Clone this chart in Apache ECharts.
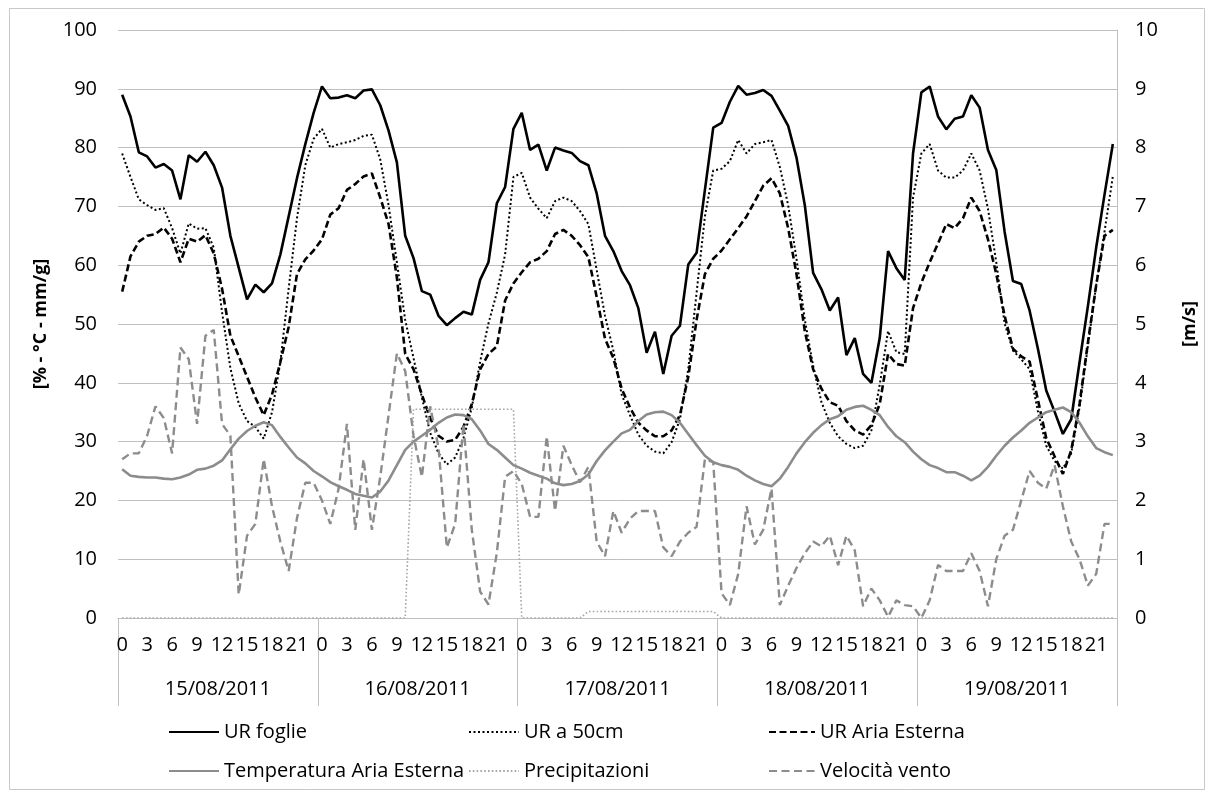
<!DOCTYPE html>
<html>
<head>
<meta charset="utf-8">
<script src="https://cdn.jsdelivr.net/npm/echarts@6/dist/echarts.min.js"></script>
<style>
  html, body { margin: 0; padding: 0; background: #fff; }
  #chart { width: 1214px; height: 791px; }
</style>
</head>
<body>
<div id="chart"></div>
<script>
// Hourly readings, 15-19 August 2011
const hours = ['0','1','2','3','4','5','6','7','8','9','10','11','12','13','14','15','16','17','18','19','20','21','22','23'];
const days = ['15/08/2011', '16/08/2011', '17/08/2011', '18/08/2011', '19/08/2011'];

// Relative humidity on leaves [%]
const urFoglie = [
  89.0, 85.3, 79.2, 78.5, 76.6, 77.2, 76.1, 71.2, 78.7, 77.6, 79.3, 77.0, 73.2, 65.0, 59.6, 54.2, 56.7, 55.4, 56.9, 61.8, 68.3, 74.8, 80.6, 85.9,
  90.4, 88.4, 88.5, 88.9, 88.4, 89.7, 89.9, 87.2, 82.9, 77.5, 65.0, 61.2, 55.6, 55.0, 51.4, 49.8, 51.0, 52.1, 51.6, 57.5, 60.5, 70.5, 73.3, 83.2,
  85.9, 79.6, 80.5, 76.1, 80.0, 79.5, 79.1, 77.7, 77.0, 72.2, 65.0, 62.4, 59.0, 56.6, 52.7, 45.1, 48.7, 41.5, 48.0, 49.7, 60.1, 62.1, 72.8, 83.4,
  84.2, 87.8, 90.5, 89.0, 89.3, 89.8, 88.8, 86.3, 83.7, 78.3, 70.2, 58.7, 55.9, 52.3, 54.5, 44.7, 47.6, 41.5, 40.0, 47.6, 62.4, 59.5, 57.5, 79.0,
  89.4, 90.4, 85.3, 83.1, 84.9, 85.3, 88.9, 86.8, 79.6, 76.2, 65.7, 57.3, 56.8, 52.3, 45.8, 38.7, 35.1, 31.3, 33.8, 43.5, 53.0, 63.0, 72.0, 80.6
];

// Relative humidity at 50 cm [%]
const ur50cm = [
  79.0, 75.0, 71.2, 70.2, 69.4, 69.7, 66.3, 62.0, 67.1, 66.2, 66.3, 63.0, 52.0, 42.5, 36.5, 33.5, 32.5, 30.5, 35.0, 43.5, 56.0, 68.0, 77.0, 81.5,
  83.2, 80.0, 80.6, 80.9, 81.3, 82.0, 82.2, 78.0, 70.2, 60.5, 50.7, 44.2, 37.5, 31.5, 28.0, 26.1, 27.3, 30.6, 35.8, 43.6, 50.1, 55.3, 61.8, 75.0,
  75.7, 71.5, 69.6, 68.0, 70.9, 71.5, 70.9, 69.2, 67.0, 59.2, 51.4, 45.5, 38.0, 34.5, 31.2, 29.3, 28.3, 28.0, 29.9, 33.8, 42.3, 55.3, 68.3, 76.1,
  76.4, 77.7, 81.3, 79.0, 80.6, 80.9, 81.3, 76.7, 70.2, 61.1, 50.7, 42.9, 36.7, 33.2, 30.9, 29.6, 28.9, 29.3, 31.9, 39.7, 48.8, 45.2, 44.9, 71.5,
  79.0, 80.6, 76.1, 74.9, 74.9, 76.1, 79.0, 76.1, 69.6, 60.5, 50.1, 45.5, 44.0, 42.3, 35.1, 29.3, 26.7, 25.4, 28.0, 35.8, 46.2, 56.6, 65.7, 75.1
];

// Outside air relative humidity [%]
const urAriaEsterna = [
  55.5, 61.5, 64.0, 65.0, 65.3, 66.4, 64.5, 60.5, 64.5, 64.0, 65.1, 62.0, 56.0, 48.0, 44.5, 41.0, 37.5, 34.5, 38.0, 43.5, 49.5, 58.5, 61.0, 62.5,
  64.4, 68.6, 69.7, 72.8, 73.8, 75.1, 75.6, 71.5, 67.0, 57.9, 44.9, 42.3, 38.0, 34.0, 31.0, 30.0, 30.3, 32.5, 36.4, 42.3, 44.9, 46.2, 54.0, 56.9,
  58.8, 60.5, 61.1, 62.4, 65.3, 66.0, 65.0, 63.4, 61.4, 54.6, 47.5, 44.2, 39.0, 35.8, 33.2, 31.9, 30.9, 30.9, 31.9, 34.5, 41.0, 50.7, 58.5, 61.1,
  62.5, 64.4, 66.3, 68.3, 70.9, 73.5, 74.8, 72.2, 66.3, 58.5, 48.8, 42.3, 39.0, 36.7, 36.1, 33.5, 31.9, 31.2, 32.8, 36.4, 44.9, 43.2, 42.9, 52.7,
  57.0, 60.5, 63.7, 67.0, 66.3, 68.0, 71.5, 69.2, 64.4, 58.5, 51.4, 45.8, 44.5, 43.6, 37.1, 30.6, 27.5, 24.5, 28.5, 36.4, 46.8, 56.6, 65.0, 66.0
];

// Outside air temperature [°C]
const temperatura = [
  25.3, 24.2, 24.0, 23.9, 23.9, 23.7, 23.6, 23.9, 24.4, 25.2, 25.4, 25.9, 26.8, 28.7, 30.5, 31.8, 32.7, 33.3, 32.8, 30.8, 29.0, 27.3, 26.3, 25.0,
  24.1, 23.1, 22.4, 21.8, 21.1, 20.8, 20.5, 21.5, 23.4, 26.0, 28.6, 30.0, 31.0, 32.0, 33.2, 34.1, 34.6, 34.5, 33.8, 31.9, 29.6, 28.6, 27.3, 26.0,
  25.4, 24.7, 24.2, 23.7, 22.9, 22.6, 22.8, 23.3, 24.4, 26.7, 28.5, 30.0, 31.4, 32.0, 33.5, 34.6, 35.0, 35.1, 34.5, 33.2, 31.3, 29.4, 27.6, 26.5,
  26.0, 25.7, 25.2, 24.2, 23.4, 22.8, 22.4, 23.7, 25.7, 28.0, 29.9, 31.5, 32.8, 33.8, 34.3, 35.4, 35.9, 36.1, 35.4, 34.5, 32.5, 30.9, 29.9, 28.3,
  27.0, 26.0, 25.5, 24.8, 24.8, 24.2, 23.4, 24.2, 25.7, 27.6, 29.3, 30.7, 31.9, 33.2, 34.1, 35.0, 35.4, 35.8, 35.0, 33.2, 30.9, 28.9, 28.2, 27.7
];

// Rainfall [mm/g]
const precipitazioni = [
  0, 0, 0, 0, 0, 0, 0, 0, 0, 0, 0, 0, 0, 0, 0, 0, 0, 0, 0, 0, 0, 0, 0, 0,
  0, 0, 0, 0, 0, 0, 0, 0, 0, 0, 0, 35.5, 35.5, 35.5, 35.5, 35.5, 35.5, 35.5, 35.5, 35.5, 35.5, 35.5, 35.5, 35.5,
  0, 0, 0, 0, 0, 0, 0, 0, 1.1, 1.1, 1.1, 1.1, 1.1, 1.1, 1.1, 1.1, 1.1, 1.1, 1.1, 1.1, 1.1, 1.1, 1.1, 1.1,
  0, 0, 0, 0, 0, 0, 0, 0, 0, 0, 0, 0, 0, 0, 0, 0, 0, 0, 0, 0, 0, 0, 0, 0,
  0, 0, 0, 0, 0, 0, 0, 0, 0, 0, 0, 0, 0, 0, 0, 0, 0, 0, 0, 0, 0, 0, 0, 0
];

// Wind speed [m/s]
const velocitaVento = [
  2.7, 2.8, 2.8, 3.1, 3.6, 3.4, 2.8, 4.6, 4.4, 3.3, 4.8, 4.9, 3.3, 3.1, 0.4, 1.4, 1.6, 2.7, 1.9, 1.3, 0.8, 1.7, 2.3, 2.3,
  2.0, 1.6, 2.2, 3.3, 1.5, 2.7, 1.5, 2.4, 3.45, 4.5, 4.2, 3.1, 2.4, 3.6, 2.9, 1.2, 1.6, 3.3, 1.5, 0.45, 0.23, 1.1, 2.4, 2.5,
  2.28, 1.72, 1.72, 3.09, 1.82, 2.93, 2.6, 2.31, 2.57, 1.3, 1.05, 1.82, 1.45, 1.69, 1.82, 1.82, 1.82, 1.2, 1.05, 1.3, 1.45, 1.55, 2.7, 2.65,
  0.42, 0.22, 0.75, 1.9, 1.25, 1.5, 2.2, 0.22, 0.55, 0.85, 1.1, 1.3, 1.22, 1.4, 0.9, 1.4, 1.15, 0.2, 0.5, 0.3, 0.02, 0.3, 0.22, 0.2,
  0.0, 0.3, 0.9, 0.8, 0.8, 0.8, 1.1, 0.8, 0.2, 1.0, 1.4, 1.5, 2.0, 2.5, 2.3, 2.2, 2.6, 1.9, 1.3, 1.0, 0.55, 0.75, 1.6, 1.6
];

const FONT = 'Open Sans';
const GRID_LINE = '#bfbfbf';

// one category per day/hour pair, labelled with the hour only
const categories = [];
days.forEach(d => hours.forEach(h => categories.push(d + ' ' + h)));

const chart = echarts.init(document.getElementById('chart'), null, { renderer: 'canvas' });

// one legend block per entry so each sits in its own column/row
function legendAt(name, left, top, width) {
  return {
    data: [name], left: left, top: top, orient: 'horizontal',
    itemWidth: width, itemHeight: 14, itemGap: 0,
    itemStyle: { opacity: 0 },
    textStyle: { fontFamily: FONT, fontSize: 20, color: '#000' }
  };
}

const option = {
  animation: false,
  backgroundColor: '#fff',
  textStyle: { fontFamily: FONT },
  grid: { left: 118, right: 97, top: 30, bottom: 173, containLabel: false },
  graphic: [{
    type: 'rect', silent: true, z: -1,
    shape: { x: 9.5, y: 8.5, width: 1195, height: 781 },
    style: { fill: 'none', stroke: '#c8c8c8', lineWidth: 1 }
  }],
  legend: [
    legendAt('UR foglie', 163, 717, 50),
    legendAt('UR a 50cm', 463, 717, 50),
    legendAt('UR Aria Esterna', 763, 717, 46),
    legendAt('Temperatura Aria Esterna', 163, 756, 50),
    legendAt('Precipitazioni', 463, 756, 50),
    legendAt('Velocità vento', 763, 756, 46)
  ],
  xAxis: [
    {
      type: 'category', data: categories, boundaryGap: true, position: 'bottom',
      axisLine: { show: true, lineStyle: { color: GRID_LINE, width: 1 } },
      axisTick: { show: false },
      axisLabel: {
        interval: 2, margin: 17, fontFamily: FONT, fontSize: 20, color: '#000',
        formatter: v => v.split(' ')[1]
      },
      splitLine: { show: false }
    },
    {
      type: 'category', data: days, boundaryGap: true, position: 'bottom', offset: 0,
      axisLine: { show: false },
      axisTick: { show: true, length: 88, interval: 0, lineStyle: { color: GRID_LINE, width: 1 } },
      axisLabel: { interval: 0, margin: 61, fontFamily: FONT, fontSize: 20, color: '#000' },
      splitLine: { show: false }
    }
  ],
  yAxis: [
    {
      type: 'value', min: 0, max: 100, interval: 10, position: 'left',
      name: '[% - °C - mm/g]', nameLocation: 'middle', nameGap: 68, nameRotate: 90,
      nameTextStyle: { fontFamily: FONT, fontSize: 18, fontWeight: 'bold', color: '#000' },
      axisLine: { show: false },
      axisTick: { show: false },
      axisLabel: { margin: 21, fontFamily: FONT, fontSize: 20, color: '#000' },
      splitLine: { show: true, lineStyle: { color: GRID_LINE, width: 1 } }
    },
    {
      type: 'value', min: 0, max: 10, interval: 1, position: 'right',
      name: '[m/s]', nameLocation: 'middle', nameGap: 64, nameRotate: 90,
      nameTextStyle: { fontFamily: FONT, fontSize: 18, fontWeight: 'bold', color: '#000' },
      axisLine: { show: true, lineStyle: { color: GRID_LINE, width: 1 } },
      axisTick: { show: false },
      axisLabel: { margin: 18, fontFamily: FONT, fontSize: 20, color: '#000' },
      splitLine: { show: false }
    }
  ],
  series: [
    {
      name: 'UR foglie', type: 'line', data: urFoglie, yAxisIndex: 0,
      symbol: 'none', color: '#000',
      lineStyle: { color: '#000', width: 2.6, type: 'solid' }
    },
    {
      name: 'UR a 50cm', type: 'line', data: ur50cm, yAxisIndex: 0,
      symbol: 'none', color: '#000',
      lineStyle: { color: '#000', width: 2, type: [2, 2.5] }
    },
    {
      name: 'UR Aria Esterna', type: 'line', data: urAriaEsterna, yAxisIndex: 0,
      symbol: 'none', color: '#000',
      lineStyle: { color: '#000', width: 2.6, type: [7, 3.5] }
    },
    {
      name: 'Temperatura Aria Esterna', type: 'line', data: temperatura, yAxisIndex: 0,
      symbol: 'none', color: '#8c8c8c',
      lineStyle: { color: '#8c8c8c', width: 2.6, type: 'solid' }
    },
    {
      name: 'Precipitazioni', type: 'line', data: precipitazioni, yAxisIndex: 0,
      symbol: 'none', color: '#a6a6a6',
      lineStyle: { color: '#a6a6a6', width: 1.6, type: [1.6, 2.2] }
    },
    {
      name: 'Velocità vento', type: 'line', data: velocitaVento, yAxisIndex: 1,
      symbol: 'none', color: '#8c8c8c',
      lineStyle: { color: '#8c8c8c', width: 2.4, type: [8, 4.5] }
    }
  ]
};

chart.setOption(option);
</script>
</body>
</html>
